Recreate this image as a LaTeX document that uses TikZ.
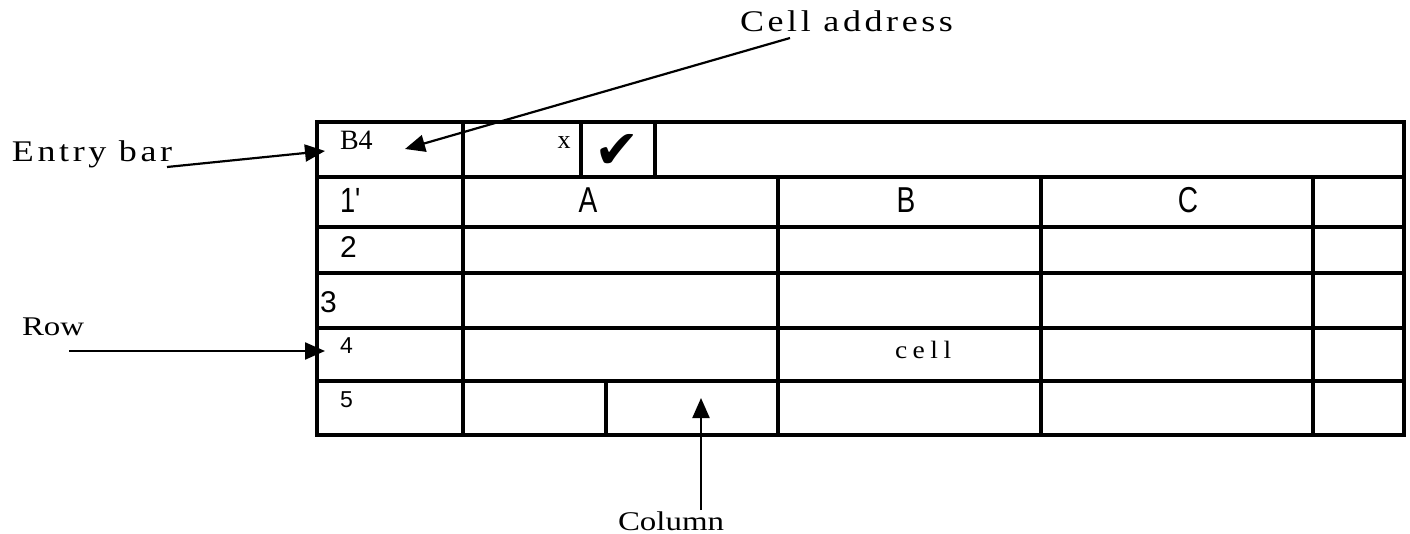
\documentclass[tikz,border=0pt]{standalone}
\usepackage{fontspec}
\setmainfont{Liberation Serif}
\newfontfamily\labelfont{Liberation Serif}[FakeStretch=1.22]
\newfontfamily\spacedfont{Liberation Serif}[FakeStretch=1.2,LetterSpace=12]
\newfontfamily\cellfont{Liberation Serif}[FakeStretch=1.1,LetterSpace=22]
\newfontfamily\condsans{Liberation Sans}[FakeStretch=0.78]
\newfontfamily\plainsans{Liberation Sans}
\newfontfamily\symfont{DejaVu Sans}
\usetikzlibrary{arrows.meta}
\tikzset{
  thinline/.style={line width=3.3pt},
  thickline/.style={line width=4.3pt},
  pointer/.style={line width=2.2pt,-{Triangle[length=20pt,width=17pt]}},
  txt/.style={inner sep=0pt,outer sep=0pt},
}
\begin{document}
\begin{tikzpicture}[x=1pt,y=-1pt]
\useasboundingbox (0,0) rectangle (1410,534);
% horizontal grid lines
\draw[thinline] (317,122) -- (1404,122);
\draw[thickline] (317,177) -- (1404,177);
\draw[thickline] (317,227) -- (1404,227);
\draw[thickline] (317,273) -- (1404,273);
\draw[thinline] (317,328) -- (1404,328);
\draw[thinline] (317,381) -- (1404,381);
\draw[thinline] (315.4,435) -- (1405.6,435);
% vertical grid lines
\draw[thinline] (317,120.4) -- (317,436.6);
\draw[thickline] (463,122) -- (463,435);
\draw[thinline] (581,122) -- (581,177);
\draw[thinline] (655,122) -- (655,177);
\draw[thinline] (778,177) -- (778,435);
\draw[thinline] (1041,177) -- (1041,435);
\draw[thinline] (1313,177) -- (1313,435);
\draw[thinline] (1404,120.4) -- (1404,436.6);
\draw[thickline] (606,381) -- (606,435);
% cell texts
\node[txt,anchor=base west] (b4) at (340,150) {\fontsize{28}{30}\selectfont B4};
\node[txt,anchor=base] (xmark) at (564,149) {\fontsize{26}{30}\selectfont x};
\node[txt] (check) at (617,151) {\fontsize{54}{58}\symfont ✔};
\node[txt,anchor=base west] (r1) at (340,213) {\fontsize{35}{36}\condsans 1'};
\node[txt,anchor=base] (colA) at (588,213) {\fontsize{36}{38}\condsans A};
\node[txt,anchor=base] (colB) at (906,213) {\fontsize{36}{38}\condsans B};
\node[txt,anchor=base] (colC) at (1188,213) {\fontsize{36}{38}\condsans C};
\node[txt,anchor=base west] (r2) at (340,258) {\fontsize{30}{32}\plainsans 2};
\node[txt,anchor=base west] (r3) at (320,313) {\fontsize{30}{32}\plainsans 3};
\node[txt,anchor=base west] (r4) at (340,353) {\fontsize{23}{25}\plainsans 4};
\node[txt,anchor=base west] (r5) at (340,407) {\fontsize{23}{25}\plainsans 5};
\node[txt,anchor=base west] (cell) at (895,358) {\fontsize{25}{27}\cellfont cell};
% labels
\node[txt,anchor=base west] (entry) at (12,162) {\fontsize{30}{32}\spacedfont Entry bar};
\node[txt,anchor=base west] (addr) at (740,32) {\fontsize{30}{32}\spacedfont Cell address};
\node[txt,anchor=base west] (row) at (22,335) {\fontsize{27}{30}\labelfont Row};
\node[txt,anchor=base west] (col) at (618,530) {\fontsize{27}{30}\labelfont Column};
% pointer ends
\coordinate (entryS) at (167,167);
\coordinate (entryT) at (325,151);
\coordinate (addrS) at (790,38);
\coordinate (addrT) at (405,149);
\coordinate (rowS) at (69,351);
\coordinate (rowT) at (325,351);
\coordinate (colS) at (701,510);
\coordinate (colT) at (701,398);
\draw[pointer] (entryS) -- (entryT);
\draw[pointer] (addrS) -- (addrT);
\draw[pointer] (rowS) -- (rowT);
\draw[pointer] (colS) -- (colT);
\end{tikzpicture}
\end{document}
